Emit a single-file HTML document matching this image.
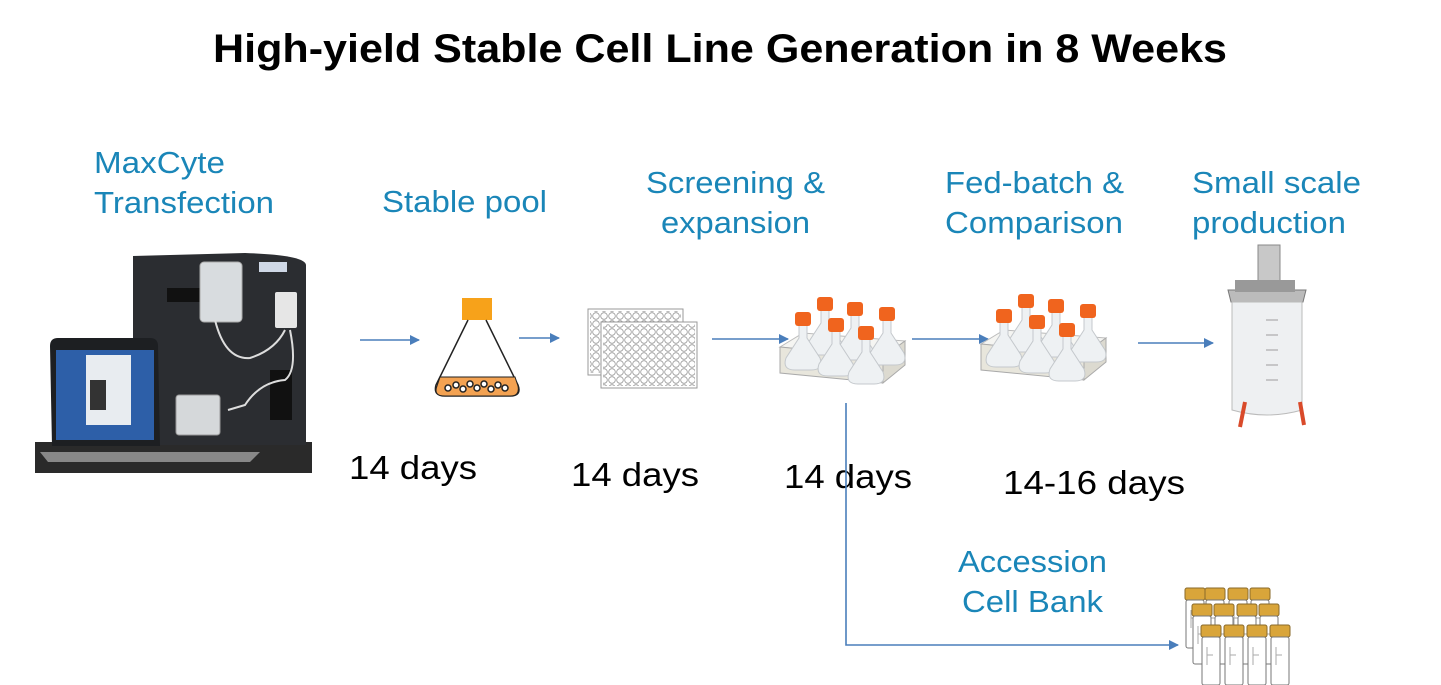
<!DOCTYPE html>
<html><head><meta charset="utf-8"><style>
html,body{margin:0;padding:0;background:#fff;}
svg{display:block;}
.b{font-family:"Liberation Sans",sans-serif;font-size:31px;fill:#1a86b8;}
.d{font-family:"Liberation Sans",sans-serif;font-size:33px;fill:#000;}
</style></head><body>
<svg width="1441" height="685" viewBox="0 0 1441 685" xmlns="http://www.w3.org/2000/svg">
<defs>
<marker id="ar" markerWidth="10" markerHeight="10" refX="9" refY="5" orient="auto" markerUnits="userSpaceOnUse">
<path d="M0,0 L10,5 L0,10 z" fill="#4a7ebb"/></marker>
<pattern id="wells" width="8" height="8" patternUnits="userSpaceOnUse">
<circle cx="4" cy="4" r="3.3" fill="#fff" stroke="#999" stroke-width="0.8"/></pattern>
<g id="fl">
<path d="M-4,12 L-4,26 L-17,46 Q-21,58 -8,58 L8,58 Q21,58 17,46 L4,26 L4,12 z" fill="#eef1f3" stroke="#c4c8cc" stroke-width="1"/>
<rect x="-8" y="0" width="16" height="14" rx="3" fill="#f0641e"/>
</g>
<g id="sh">
<path d="M1,52 L24,38 L126,46 L104,62 z" fill="#f5f5f2" stroke="#bbb"/>
<path d="M1,52 L104,62 L104,88 L1,78 z" fill="#e8e6dc" stroke="#aaa"/>
<path d="M104,62 L126,46 L126,70 L104,88 z" fill="#dcdad0" stroke="#aaa"/>
<rect x="14" y="66" width="7" height="5" fill="#222"/><rect x="80" y="76" width="7" height="5" fill="#222"/>
<g fill="#333"><circle cx="30" cy="70" r="1"/><circle cx="45" cy="72" r="1"/><circle cx="60" cy="73" r="1"/><circle cx="95" cy="77" r="1"/></g>
<use href="#fl" x="46" y="2"/><use href="#fl" x="76" y="7"/><use href="#fl" x="108" y="12"/>
<use href="#fl" x="24" y="17"/><use href="#fl" x="57" y="23"/><use href="#fl" x="87" y="31"/>
</g>
<g id="vial">
<rect x="0" y="0" width="20" height="12" rx="2" fill="#d9a53a" stroke="#8a6a2a"/>
<rect x="1" y="12" width="18" height="48" rx="2" fill="#fff" stroke="#777"/>
<path d="M6,22 L6,40 M6,30 L12,30" stroke="#aaa" fill="none"/>
</g>
</defs>

<text x="720" y="62" text-anchor="middle" font-family="Liberation Sans,sans-serif" font-weight="bold" font-size="40" textLength="1014" lengthAdjust="spacingAndGlyphs">High-yield Stable Cell Line Generation in 8 Weeks</text>

<g lengthAdjust="spacingAndGlyphs">
<text class="b" x="94" y="173" textLength="131" lengthAdjust="spacingAndGlyphs">MaxCyte</text>
<text class="b" x="94" y="213" textLength="180" lengthAdjust="spacingAndGlyphs">Transfection</text>
<text class="b" x="382" y="212" textLength="165" lengthAdjust="spacingAndGlyphs">Stable pool</text>
<text class="b" x="646" y="193" textLength="179" lengthAdjust="spacingAndGlyphs">Screening &amp;</text>
<text class="b" x="661" y="233" textLength="149" lengthAdjust="spacingAndGlyphs">expansion</text>
<text class="b" x="945" y="193" textLength="179" lengthAdjust="spacingAndGlyphs">Fed-batch &amp;</text>
<text class="b" x="945" y="233" textLength="178" lengthAdjust="spacingAndGlyphs">Comparison</text>
<text class="b" x="1192" y="193" textLength="169" lengthAdjust="spacingAndGlyphs">Small scale</text>
<text class="b" x="1192" y="233" textLength="154" lengthAdjust="spacingAndGlyphs">production</text>
<text class="b" x="958" y="572" textLength="149" lengthAdjust="spacingAndGlyphs">Accession</text>
<text class="b" x="962" y="612" textLength="141" lengthAdjust="spacingAndGlyphs">Cell Bank</text>

<text class="d" x="349" y="479" textLength="128" lengthAdjust="spacingAndGlyphs">14 days</text>
<text class="d" x="571" y="486" textLength="128" lengthAdjust="spacingAndGlyphs">14 days</text>
<text class="d" x="784" y="488" textLength="128" lengthAdjust="spacingAndGlyphs">14 days</text>
<text class="d" x="1003" y="494" textLength="182" lengthAdjust="spacingAndGlyphs">14-16 days</text>
</g>

<g stroke="#4a7ebb" stroke-width="1.6" fill="none">
<line x1="360" y1="340" x2="419" y2="340" marker-end="url(#ar)"/>
<line x1="519" y1="338" x2="559" y2="338" marker-end="url(#ar)"/>
<line x1="712" y1="339" x2="788" y2="339" marker-end="url(#ar)"/>
<line x1="912" y1="339" x2="988" y2="339" marker-end="url(#ar)"/>
<line x1="1138" y1="343" x2="1213" y2="343" marker-end="url(#ar)"/>
<polyline points="846,403 846,645 1178,645" marker-end="url(#ar)"/>
</g>

<!-- MaxCyte machine -->
<rect x="35" y="442" width="277" height="31" fill="#2a2a2a"/>
<path d="M133,256 L245,253 Q305,255 306,265 L306,445 L133,445 z" fill="#2b2d31"/>
<rect x="167" y="288" width="36" height="14" fill="#111"/>
<rect x="200" y="262" width="42" height="60" rx="4" fill="#d8dcdf" stroke="#aaa"/>
<rect x="275" y="292" width="22" height="36" rx="2" fill="#e6e6e6"/>
<rect x="259" y="262" width="28" height="10" fill="#cfd8e6"/>
<rect x="270" y="370" width="22" height="50" fill="#111"/>
<path d="M215,320 Q225,360 250,358 Q275,350 285,330 M290,330 Q298,370 285,380 Q260,382 245,405 L228,410" stroke="#ddd" stroke-width="2" fill="none"/>
<rect x="176" y="395" width="44" height="40" rx="3" fill="#d5d8da" stroke="#999"/>
<path d="M50,346 Q50,338 58,338 L150,338 Q158,338 158,346 L160,446 L52,446 z" fill="#1d1f22"/>
<rect x="56" y="350" width="98" height="90" fill="#2d5fa8"/>
<rect x="86" y="355" width="45" height="70" fill="#e8ecf0"/>
<rect x="90" y="380" width="16" height="30" fill="#333"/>
<path d="M40,452 L260,452 L250,462 L48,462 z" fill="#888"/>

<!-- stable pool flask -->
<rect x="462" y="298" width="30" height="22" fill="#f7a21a"/>
<path d="M468,320 L436,385 Q433,396 445,396 L510,396 Q522,396 518,385 L486,320" fill="#fff" stroke="#222" stroke-width="1.5"/>
<path d="M440,377 L515,377 L518,386 Q520,396 510,396 L445,396 Q433,396 437,386 z" fill="#f3a252" stroke="#222"/>
<g fill="#fff" stroke="#222" stroke-width="1.5">
<circle cx="448" cy="388" r="3"/><circle cx="456" cy="385" r="3"/><circle cx="463" cy="389" r="3"/><circle cx="470" cy="384" r="3"/><circle cx="477" cy="388" r="3"/><circle cx="484" cy="384" r="3"/><circle cx="491" cy="389" r="3"/><circle cx="498" cy="385" r="3"/><circle cx="505" cy="388" r="3"/>
</g>

<!-- plates -->
<rect x="588" y="309" width="95" height="66" fill="#fff" stroke="#999"/>
<rect x="590" y="311" width="91" height="62" fill="url(#wells)"/>
<rect x="601" y="322" width="96" height="66" fill="#fff" stroke="#999"/>
<rect x="603" y="324" width="92" height="62" fill="url(#wells)"/>

<!-- shakers -->
<use href="#sh" x="779" y="295"/>
<use href="#sh" x="980" y="292"/>

<!-- bioreactor -->
<rect x="1258" y="245" width="22" height="40" fill="#c8c8c8" stroke="#888"/>
<path d="M1228,290 L1306,290 L1303,302 L1231,302 z" fill="#bbb" stroke="#777"/>
<rect x="1235" y="280" width="60" height="12" fill="#999"/>
<path d="M1232,302 L1302,302 L1302,410 Q1267,420 1232,410 z" fill="#eef0f2" stroke="#bbb"/>
<g stroke="#888" stroke-width="0.8"><line x1="1266" y1="320" x2="1278" y2="320"/><line x1="1266" y1="335" x2="1278" y2="335"/><line x1="1266" y1="350" x2="1278" y2="350"/><line x1="1266" y1="365" x2="1278" y2="365"/><line x1="1266" y1="380" x2="1278" y2="380"/></g>
<path d="M1245,402 L1240,427 M1300,402 L1304,425" stroke="#d94a2a" stroke-width="4"/>

<!-- vials -->
<use href="#vial" x="1185" y="588"/><use href="#vial" x="1205" y="588"/><use href="#vial" x="1228" y="588"/><use href="#vial" x="1250" y="588"/>
<use href="#vial" x="1192" y="604"/><use href="#vial" x="1214" y="604"/><use href="#vial" x="1237" y="604"/><use href="#vial" x="1259" y="604"/>
<use href="#vial" x="1201" y="625"/><use href="#vial" x="1224" y="625"/><use href="#vial" x="1247" y="625"/><use href="#vial" x="1270" y="625"/>
</svg>
</body></html>
